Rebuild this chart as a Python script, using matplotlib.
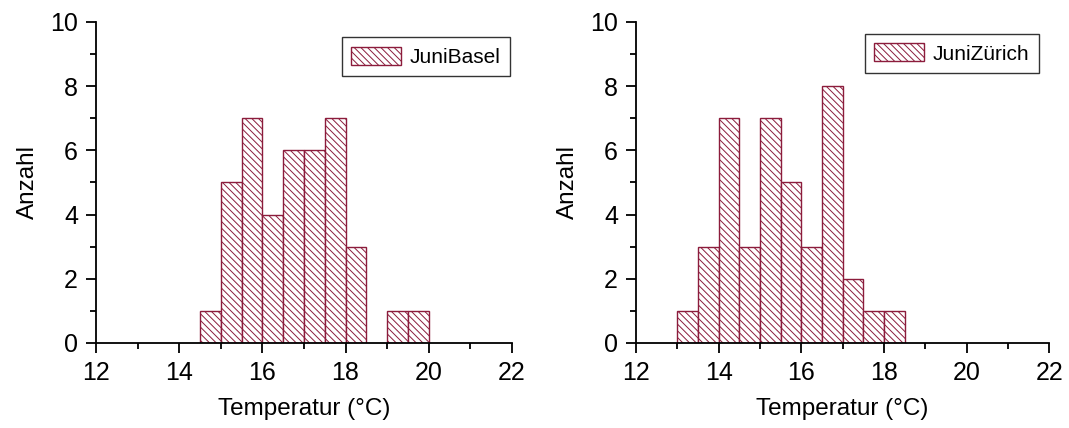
import numpy as np
import matplotlib
matplotlib.use("Agg")
import matplotlib.pyplot as plt
from matplotlib.ticker import MultipleLocator

plt.rcParams['font.family'] = ['Liberation Sans', 'DejaVu Sans']
plt.rcParams['hatch.linewidth'] = 0.7

# bin edges (width 0.5 °C) and counts
basel_edges = [14.5, 15.0, 15.5, 16.0, 16.5, 17.0, 17.5, 18.0, 18.5, 19.0, 19.5, 20.0]
basel_counts = [1, 5, 7, 4, 6, 6, 7, 3, 0, 1, 1]
zurich_edges = [13.0, 13.5, 14.0, 14.5, 15.0, 15.5, 16.0, 16.5, 17.0, 17.5, 18.0, 18.5]
zurich_counts = [1, 3, 7, 3, 7, 5, 3, 8, 2, 1, 1]
labels = ["JuniBasel", "JuniZürich"]

edge_col = "#8c1c3c"

fig = plt.figure(figsize=(10.69, 4.28), dpi=100)
ax1 = fig.add_axes([0.0898, 0.1986, 0.389, 0.75])
ax2 = fig.add_axes([0.595, 0.1986, 0.3865, 0.75])

for ax, edges, counts, lab, leg_anchor in [
        (ax1, basel_edges, basel_counts, labels[0], (1.02, 0.985)),
        (ax2, zurich_edges, zurich_counts, labels[1], (1.0, 0.995))]:
    edges = np.array(edges)
    counts = np.array(counts)
    mask = counts > 0
    ax.bar(edges[:-1][mask], counts[mask], width=np.diff(edges)[mask], align='edge',
           facecolor='white', edgecolor=edge_col, hatch='\\\\\\\\\\', linewidth=1.0,
           label=lab, zorder=2)
    ax.set_xlim(12, 22)
    ax.set_ylim(0, 10)
    ax.xaxis.set_major_locator(MultipleLocator(2))
    ax.xaxis.set_minor_locator(MultipleLocator(1))
    ax.yaxis.set_major_locator(MultipleLocator(2))
    ax.yaxis.set_minor_locator(MultipleLocator(1))
    for s in ['top', 'right']:
        ax.spines[s].set_visible(False)
    for s in ['left', 'bottom']:
        ax.spines[s].set_linewidth(1.3)
    ax.tick_params(which='major', length=7, width=1.3, labelsize=18, direction='out', pad=6)
    ax.tick_params(which='minor', length=4, width=1.3, direction='out')
    ax.set_xlabel("Temperatur (°C)", fontsize=17.5, labelpad=9)
    ax.set_ylabel("Anzahl", fontsize=17.5, labelpad=8)
    leg = ax.legend(loc='upper right', bbox_to_anchor=leg_anchor, fontsize=15,
                    fancybox=False, edgecolor='#333333', framealpha=1,
                    handlelength=2.4, handleheight=0.95, handletextpad=0.4,
                    borderpad=0.45, borderaxespad=0.5)
    leg.get_frame().set_linewidth(1.0)

fig.savefig("out.png", dpi=100)
